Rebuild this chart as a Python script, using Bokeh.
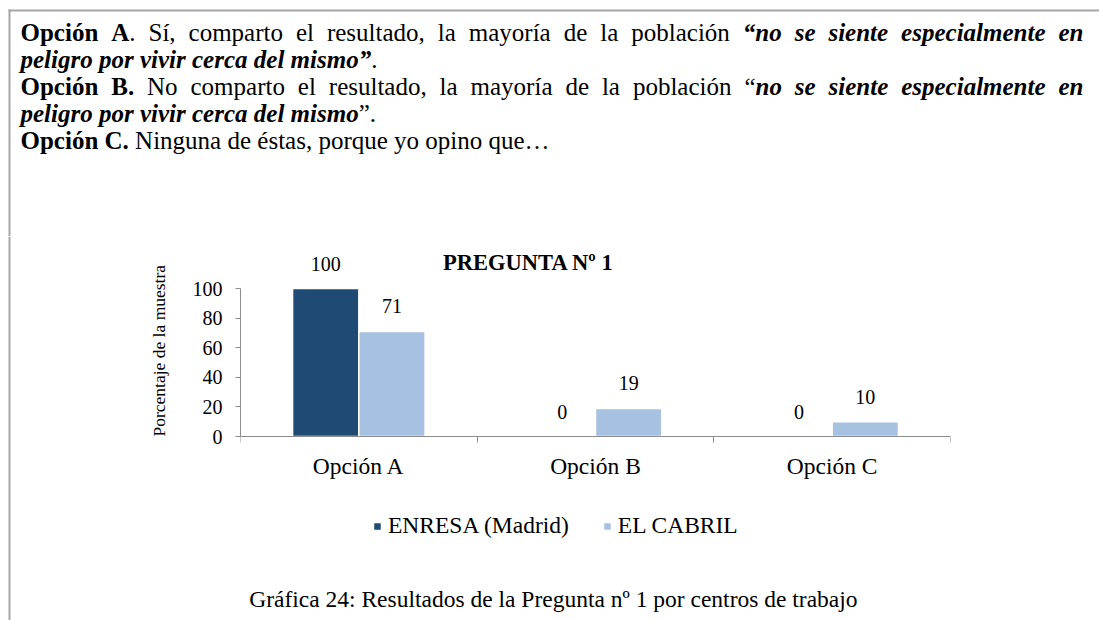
import numpy as np
from bokeh.plotting import figure
from bokeh.layouts import column, row
from bokeh.models import (Range1d, FixedTicker, Label, Legend, LegendItem, Title,
                          ColumnDataSource, BoxAnnotation)
from bokeh.transform import dodge
from bokeh.core.properties import value
from bokeh.embed import file_html
from bokeh.resources import INLINE

# ---------------- data ----------------
categories = ["Opción A", "Opción B", "Opción C"]
series_names = ["ENRESA (Madrid)", "EL CABRIL"]
enresa = [100, 0, 0]
cabril = [71, 19, 10]
y_ticks = [0, 20, 40, 60, 80, 100]
chart_title = "PREGUNTA Nº 1"
y_label = "Porcentaje de la muestra"
caption = "Gráfica 24: Resultados de la Pregunta nº 1 por centros de trabajo"

paragraph = [
    [("Opción A", "bold"), (". Sí, comparto el resultado, la mayoría de la población ", "normal"),
     ("“no se siente especialmente en", "bold italic")],
    [("peligro  por vivir cerca del mismo”", "bold italic"), (".", "normal")],
    [("Opción B.", "bold"), (" No comparto el resultado, la mayoría de la población “", "normal"),
     ("no se siente especialmente en", "bold italic")],
    [("peligro por vivir cerca del mismo", "bold italic"), ("”.", "normal")],
    [("Opción C.", "bold"), (" Ninguna de éstas, porque yo opino que…", "normal")],
]
justified = [True, False, True, False, False]

# ---------------- styling ----------------
FONT = "Liberation Serif"
DARK = "#1F4A73"
LIGHT = "#A7C1E0"
AXIS = "#8E8E8E"
FRAME = "#A6A6A6"

PAGE_W, PAGE_H = 1099, 620
TOP_H = 236          # text block above the chart
STRIP_W = 12         # strip carrying the left page rule
CHART_H = 348
BOT_H = PAGE_H - TOP_H - CHART_H


def blank(width, height):
    f = figure(width=width, height=height, output_backend="svg", toolbar_location=None,
               x_range=Range1d(0, width), y_range=Range1d(height, 0),
               x_axis_type=None, y_axis_type=None,
               min_border=0, min_border_left=0, min_border_right=0,
               min_border_top=0, min_border_bottom=0)
    f.title.visible = False
    f.outline_line_color = None
    f.xgrid.visible = False
    f.ygrid.visible = False
    f.background_fill_color = "white"
    f.border_fill_color = "white"
    return f


# ---------------- top text block ----------------
top = blank(PAGE_W, TOP_H)
top.add_layout(BoxAnnotation(left=8, right=PAGE_W, top=9, bottom=11,
                             fill_color=FRAME, fill_alpha=1, line_color=None))
top.add_layout(BoxAnnotation(left=8, right=10, top=9, bottom=TOP_H,
                             fill_color=FRAME, fill_alpha=1, line_color=None))

REG = {' ': 250, 'a': 444, 'b': 500, 'c': 444, 'd': 500, 'e': 444, 'f': 333, 'g': 500, 'h': 500,
       'i': 278, 'j': 278, 'k': 500, 'l': 278, 'm': 778, 'n': 500, 'o': 500, 'p': 500, 'q': 500,
       'r': 333, 's': 389, 't': 278, 'u': 500, 'v': 500, 'w': 722, 'x': 500, 'y': 500, 'z': 444,
       'A': 722, 'B': 667, 'C': 667, 'N': 722, 'O': 722, 'S': 556, ',': 250, '.': 250,
       '“': 444, '”': 444, '…': 1000, 'í': 278, 'é': 444, 'á': 444, 'ó': 500}
BOLD = dict(REG, **{'a': 500, 'b': 556, 'd': 556, 'h': 556, 'j': 333, 'k': 556, 'm': 833,
                    'n': 556, 'p': 556, 'q': 556, 'r': 444, 't': 333, 'u': 556, 'O': 778,
                    'C': 722, '“': 500, '”': 500})
BI = dict(REG, **{'a': 500, 'h': 556, 'n': 556, 'r': 389, 'u': 556, 'v': 444, 'w': 667,
                  'y': 444, 'z': 389, '“': 500, '”': 500})
TABLES = {"normal": REG, "bold": BOLD, "bold italic": BI}
PSIZE = 25


def tw(t, style):
    tab = TABLES[style]
    return sum(tab.get(ch, 500) for ch in t) * PSIZE / 1000.0


X0, X1 = 20, 1083
baselines = [32, 59, 86, 113, 140]
for runs, just, by in zip(paragraph, justified, baselines):
    words = [[]]
    for text, style in runs:
        parts = text.split(" ")
        for k, part in enumerate(parts):
            if k > 0:
                words.append([])
            if part:
                words[-1].append((part, style))
    words = [w for w in words if w]
    widths = [sum(tw(t, s) for t, s in w) for w in words]
    gap = (X1 - X0 - sum(widths)) / (len(words) - 1) if just else tw(" ", "normal")
    x = X0
    for i, (w, wd) in enumerate(zip(words, widths)):
        xx = X1 - wd if (just and i == len(words) - 1) else x
        for t, s in w:
            top.add_layout(Label(x=xx, y=by, text=t, text_align="left",
                                 text_baseline="alphabetic", text_font=FONT,
                                 text_font_size=f"{PSIZE}px", text_font_style=s,
                                 text_color="black"))
            xx += tw(t, s)
        x += wd + gap

# ---------------- left rule strip ----------------
strip = blank(STRIP_W, PAGE_H - TOP_H)
strip.add_layout(BoxAnnotation(left=8, right=10, top=0, bottom=PAGE_H - TOP_H,
                               fill_color=FRAME, fill_alpha=1, line_color=None))

# ---------------- chart ----------------
CW = PAGE_W - STRIP_W
FL, FR = 240 - STRIP_W, 950 - STRIP_W          # frame left/right (chart canvas)
ZERO = 436 - TOP_H                             # zero line (chart canvas)
FB = 542 - TOP_H                               # frame bottom, below the legend
ppu = (436 - 288) / 100.0                      # pixels per percentage point

p = figure(width=CW, height=CHART_H, output_backend="svg", toolbar_location=None,
           x_range=Range1d(0, len(categories)),
           y_range=Range1d(-(FB - ZERO) / ppu, ZERO / ppu),
           min_border_left=FL, min_border_right=CW - FR,
           min_border_top=0, min_border_bottom=CHART_H - FB)
p.title.visible = False
p.outline_line_color = None
p.xgrid.grid_line_color = None
p.ygrid.grid_line_color = None
p.background_fill_color = "white"
p.border_fill_color = "white"

bw = 0.28
xc = np.arange(len(categories)) + 0.5
src = ColumnDataSource(dict(
    x=xc, enresa=enresa, cabril=cabril,
    enresa_lbl=[str(v) for v in enresa], cabril_lbl=[str(v) for v in cabril]))

r1 = p.vbar(x=dodge("x", -bw / 2), top="enresa", bottom=0, width=bw, source=src,
            fill_color=DARK, line_color="white", line_width=1.5)
r2 = p.vbar(x=dodge("x", bw / 2), top="cabril", bottom=0, width=bw, source=src,
            fill_color=LIGHT, line_color="white", line_width=1.5)

for col, lbl, off in [("enresa", "enresa_lbl", -bw / 2), ("cabril", "cabril_lbl", bw / 2)]:
    p.text(x=dodge("x", off), y=col, text=lbl, source=src, text_align="center",
           text_baseline="alphabetic", y_offset=-25,
           text_font=value(FONT), text_font_size="20px", text_color="black")

p.add_layout(Label(x=528 - STRIP_W, y=262 - TOP_H, x_units="canvas", y_units="canvas",
                   text=chart_title, text_align="center", text_baseline="middle",
                   text_font=FONT, text_font_size="22.5px", text_font_style="bold",
                   text_color="black"))

# y axis
yax = p.yaxis[0]
yax.ticker = FixedTicker(ticks=y_ticks)
yax.bounds = (0, 100)
yax.axis_line_color = AXIS
yax.major_tick_line_color = AXIS
yax.major_tick_out = 5
yax.major_tick_in = 0
yax.minor_tick_line_color = None
yax.major_label_standoff = 13
yax.major_label_text_font = FONT
yax.major_label_text_font_size = "20px"
yax.major_label_text_color = "black"

p.add_layout(Title(text=y_label, align="left", offset=FB - ZERO, standoff=41,
                   text_font=FONT, text_font_style="normal", text_font_size="17.5px",
                   text_color="black"), "left")

# x axis, drawn on the zero line
xax = p.xaxis[0]
xax.fixed_location = 0
xax.ticker = FixedTicker(ticks=list(xc), minor_ticks=list(range(len(categories) + 1)))
xax.major_label_overrides = {float(x): c for x, c in zip(xc, categories)}
xax.axis_line_color = AXIS
xax.major_tick_line_color = None
xax.major_tick_out = 0
xax.major_tick_in = 0
xax.minor_tick_line_color = AXIS
xax.minor_tick_out = 6
xax.minor_tick_in = 0
xax.major_label_standoff = 10
xax.major_label_text_font = FONT
xax.major_label_text_font_size = "23.5px"
xax.major_label_text_color = "black"

legend = Legend(items=[LegendItem(label=series_names[0], renderers=[r1]),
                       LegendItem(label=series_names[1], renderers=[r2])],
                orientation="horizontal", location=(132, 3))
legend.label_text_font = FONT
legend.label_text_font_size = "23.5px"
legend.label_text_color = "black"
legend.glyph_width = 10
legend.glyph_height = 10
legend.label_standoff = 6
legend.spacing = 33
legend.padding = 0
legend.margin = 0
legend.border_line_color = None
legend.background_fill_alpha = 0
p.add_layout(legend)

# ---------------- caption ----------------
bot = blank(CW, BOT_H)
bot.add_layout(Label(x=491 - STRIP_W, y=598 - TOP_H - CHART_H, text=caption,
                     text_align="center", text_baseline="middle", text_font=FONT,
                     text_font_size="23.5px", text_color="black"))

layout = column(top, row(strip, column(p, bot, spacing=0), spacing=0), spacing=0)
open("out.html", "w").write(file_html(layout, INLINE))
